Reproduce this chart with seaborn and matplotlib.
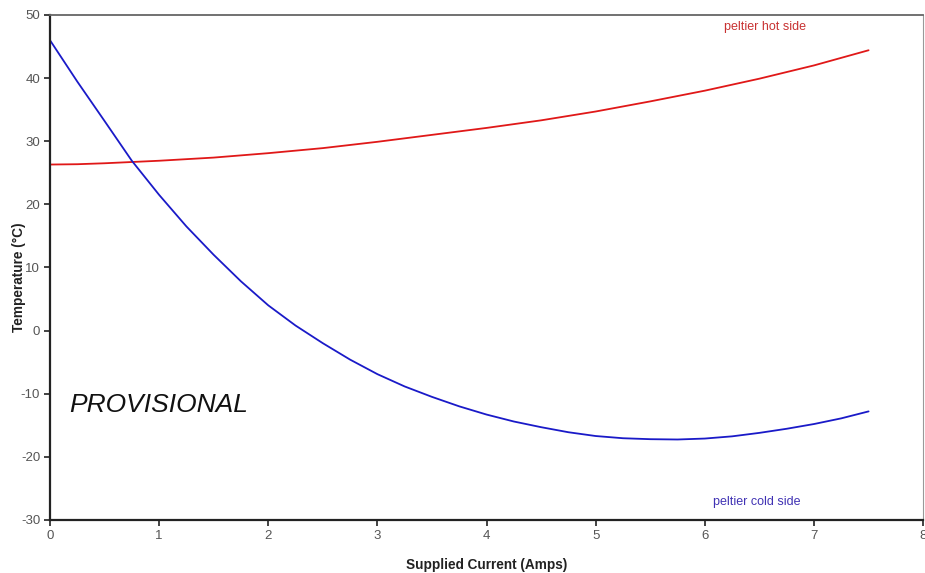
import numpy as np
import pandas as pd
import matplotlib
matplotlib.use("Agg")
import matplotlib.pyplot as plt
import seaborn as sns

# values
current = [0, 0.25, 0.5, 0.75, 1, 1.25, 1.5, 1.75, 2, 2.25, 2.5, 2.75, 3, 3.25, 3.5, 3.75,
           4, 4.25, 4.5, 4.75, 5, 5.25, 5.5, 5.75, 6, 6.25, 6.5, 6.75, 7, 7.25, 7.5]
hot_temp = [26.3, 26.35, 26.5, 26.7, 26.9, 27.15, 27.4, 27.75, 28.1, 28.5, 28.9, 29.4, 29.9,
            30.45, 31.0, 31.55, 32.1, 32.7, 33.3, 34.0, 34.7, 35.5, 36.3, 37.15, 38.0, 38.95,
            39.9, 40.95, 42.0, 43.2, 44.4]
cold_temp = [46.0, 39.45, 33.2, 26.9, 21.5, 16.5, 12.0, 7.8, 4.0, 0.8, -2.0, -4.6, -6.9,
             -8.85, -10.5, -12.0, -13.3, -14.4, -15.3, -16.1, -16.7, -17.05, -17.2, -17.25,
             -17.1, -16.75, -16.2, -15.55, -14.8, -13.9, -12.8]

sns.set_style("white")
plt.rcParams["font.family"] = ["Liberation Sans", "DejaVu Sans"]
plt.rcParams["axes.unicode_minus"] = False

fig = plt.figure(figsize=(9.25, 5.73), dpi=100)
ax = fig.add_axes([0.054, 0.0925, 0.944, 0.8815])

df = pd.DataFrame({"current": current, "hot": hot_temp, "cold": cold_temp})

sns.lineplot(data=df, x="current", y="hot", ax=ax, color="#e01818", linewidth=1.3)
sns.lineplot(data=df, x="current", y="cold", ax=ax, color="#1a1ac8", linewidth=1.3)

ax.set_xlim(0, 8)
ax.set_ylim(-30, 50)
ax.set_xticks(range(0, 9))
ax.set_yticks(range(-30, 51, 10))
ax.tick_params(axis="both", direction="out", length=4, width=1.2, colors="#222222",
               labelsize=9.5, labelcolor="#555555", bottom=True, left=True, pad=3)

for s in ["left", "bottom"]:
    ax.spines[s].set_color("#222222")
    ax.spines[s].set_linewidth(1.6)
ax.spines["top"].set_color("#666666")
ax.spines["top"].set_linewidth(1.3)
ax.spines["right"].set_color("#999999")
ax.spines["right"].set_linewidth(0.8)

ax.set_xlabel("Supplied Current (Amps)", fontsize=9.8, fontweight="bold", color="#222222", labelpad=12)
ax.set_ylabel("Temperature (°C)", fontsize=9.8, fontweight="bold", color="#222222")
ax.yaxis.set_label_coords(-0.027, 0.48)

ax.text(1.0, -11.8, "PROVISIONAL", fontsize=19, style="italic", color="#111111",
        ha="center", va="center")
ax.text(6.55, 48.1, "peltier hot side", fontsize=9, color="#c83232", ha="center", va="center")
ax.text(6.48, -27.2, "peltier cold side", fontsize=9, color="#4032b4", ha="center", va="center")

fig.savefig("out.png", dpi=100)
